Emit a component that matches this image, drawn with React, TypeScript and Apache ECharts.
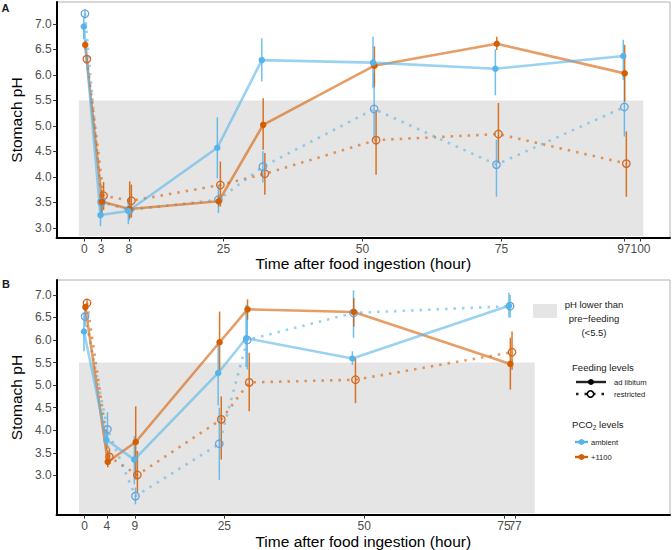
import React, { useEffect, useRef } from "react";
import * as echarts from "echarts";

const BLUE = "#56B4E9";
const ORANGE = "#D55E00";
const FONT = "Liberation Sans, Arial, sans-serif";

// ---------- Panel A ----------
const timesA = [0, 3, 8, 24, 32, 52, 74, 97];
const xTicksA = [0, 3, 8, 25, 50, 75, 97, 100];
const ambAdMeanA = [6.95, 3.25, 3.33, 4.57, 6.29, 6.24, 6.12, 6.37];
const ambAdLoA = [6.7, 3.03, 3.07, 3.97, 5.87, 5.74, 5.6, 5.9];
const ambAdHiA = [7.15, 3.5, 3.55, 5.17, 6.72, 6.75, 6.5, 6.69];
const ambReMeanA = [7.2, 3.5, 3.35, 3.55, 4.2, 5.33, 4.24, 5.37];
const ambReLoA = [7.1, 3.25, 3.15, 3.29, 3.89, 4.73, 3.61, 4.79];
const ambReHiA = [7.27, 3.7, 3.6, 3.85, 4.5, 6.03, 4.73, 5.97];
const hiAdMeanA = [6.59, 3.51, 3.37, 3.52, 5.02, 6.18, 6.61, 6.03];
const hiAdLoA = [6.5, 3.29, 3.19, 3.42, 4.53, 5.77, 6.49, 5.48];
const hiAdHiA = [6.68, 3.74, 3.91, 3.65, 5.54, 6.56, 6.75, 6.59];
const hiReMeanA = [6.31, 3.63, 3.53, 3.84, 4.06, 4.72, 4.84, 4.26];
const hiReLoA = [6.22, 3.35, 3.2, 3.42, 3.65, 4.04, 4.27, 3.61];
const hiReHiA = [6.4, 3.9, 3.85, 4.3, 4.47, 5.31, 5.45, 4.89];
const shadeA = [-1, 100.5, 2.84, 5.5];
const yRangeA = [2.8, 7.43];

// ---------- Panel B ----------
const timesB = [0, 4, 9, 24, 29, 48, 76];
const xTicksB = [0, 4, 9, 25, 50, 75];
const xTicksBExtra = [77];
const ambAdMeanB = [6.19, 3.79, 3.35, 5.27, 6.04, 5.59, 6.76];
const ambAdLoB = [5.75, 3.55, 2.8, 4.55, 5.4, 5.45, 6.5];
const ambAdHiB = [6.6, 4.0, 3.87, 6.0, 6.78, 5.75, 7.05];
const ambReMeanB = [6.52, 4.02, 2.54, 3.7, 6.0, 6.6, 6.75];
const ambReLoB = [6.3, 3.65, 2.36, 2.9, 5.35, 6.05, 6.5];
const ambReHiB = [6.7, 4.4, 2.73, 4.5, 6.75, 7.1, 7.0];
const hiAdMeanB = [6.73, 3.3, 3.74, 5.95, 6.68, 6.62, 5.47];
const hiAdLoB = [6.65, 3.18, 2.91, 5.3, 6.45, 6.3, 4.9];
const hiAdHiB = [6.8, 3.55, 4.53, 6.63, 6.9, 6.93, 6.05];
const hiReMeanB = [6.82, 3.41, 3.01, 4.24, 5.06, 5.12, 5.73];
const hiReLoB = [6.75, 3.3, 2.62, 3.35, 4.42, 4.6, 5.34];
const hiReHiB = [6.88, 3.6, 3.54, 4.75, 5.72, 5.6, 6.19];
const shadeB = [-1, 80.5, 2.16, 5.5];
const yRangeB = [2.12, 7.33];

const yTicks = [3, 3.5, 4, 4.5, 5, 5.5, 6, 6.5, 7];
const xRange = [-5, 105.3];
const xRangeB = [-5, 104.7];

const DODGE = { ambAd: -0.1, ambRe: 0.1, hiAd: 0.15, hiRe: 0.45 };

function groupSeries(
  idx: number,
  times: number[],
  mean: number[],
  lo: number[],
  hi: number[],
  color: string,
  restricted: boolean,
  dodge: number
) {
  const openColor = color === BLUE ? "#6aa3d8" : "#d5661f";
  const line = {
    type: "line",
    xAxisIndex: idx,
    yAxisIndex: idx,
    data: times.map((t, i) => [t + dodge, mean[i]]),
    symbol: "circle",
    symbolSize: restricted ? 7.5 : 6.5,
    showSymbol: true,
    itemStyle: restricted
      ? { color: "rgba(255,255,255,0)", borderColor: openColor, borderWidth: 1.3 }
      : { color: color, borderWidth: 0 },
    lineStyle: {
      color: color,
      width: 2.6,
      opacity: 0.6,
      type: restricted ? [2.5, 6] : "solid",
    },
    z: 4,
    silent: true,
  };
  const err = {
    type: "custom",
    xAxisIndex: idx,
    yAxisIndex: idx,
    data: times.map((t, i) => [t + dodge, lo[i], hi[i]]),
    encode: { x: 0, y: [1, 2] },
    renderItem: (params: any, api: any) => {
      const p1 = api.coord([api.value(0), api.value(1)]);
      const p2 = api.coord([api.value(0), api.value(2)]);
      return {
        type: "line",
        shape: { x1: p1[0], y1: p1[1], x2: p2[0], y2: p2[1] },
        style: { stroke: color, lineWidth: 1.5, opacity: 0.85 },
      };
    },
    z: 3,
    silent: true,
  };
  return [line, err];
}

function shadeSeries(idx: number, rect: number[]) {
  return {
    type: "custom",
    xAxisIndex: idx,
    yAxisIndex: idx,
    data: [rect],
    encode: { x: [0, 1], y: [2, 3] },
    renderItem: (params: any, api: any) => {
      const p0 = api.coord([api.value(0), api.value(3)]);
      const p1 = api.coord([api.value(1), api.value(2)]);
      return {
        type: "rect",
        shape: { x: p0[0], y: p0[1], width: p1[0] - p0[0], height: p1[1] - p0[1] },
        style: { fill: "#e5e5e5" },
      };
    },
    z: 1,
    silent: true,
  };
}

function xAxisCfg(idx: number, ticks: number[], range: number[], withName = true) {
  return {
    type: "value",
    gridIndex: idx,
    position: "bottom",
    min: range[0],
    max: range[1],
    name: withName ? "Time after food ingestion (hour)" : "",
    nameLocation: "middle",
    nameGap: 13,
    nameTextStyle: { fontSize: 15.5, color: "#000", fontFamily: FONT, fontWeight: "normal" },
    axisLine: { show: withName, onZero: false, lineStyle: { color: "#000", width: 2 } },
    axisTick: {
      show: true,
      length: 3.5,
      customValues: ticks,
      lineStyle: { color: "#333", width: 1 },
    },
    axisLabel: {
      show: true,
      customValues: ticks,
      margin: 5,
      fontSize: 12,
      color: "#4d4d4d",
      fontFamily: FONT,
      formatter: (v: number) => String(v),
    },
    splitLine: { show: false },
  };
}

function yAxisCfg(idx: number, range: number[]) {
  return {
    type: "value",
    gridIndex: idx,
    min: range[0],
    max: range[1],
    name: "Stomach pH",
    nameLocation: "middle",
    nameGap: 27,
    nameTextStyle: { fontSize: 15.5, color: "#000", fontFamily: FONT, fontWeight: "normal" },
    axisLine: { show: true, onZero: false, lineStyle: { color: "#000", width: 2 } },
    axisTick: {
      show: true,
      length: 3.5,
      customValues: yTicks,
      lineStyle: { color: "#333", width: 1 },
    },
    axisLabel: {
      show: true,
      customValues: yTicks,
      margin: 5,
      fontSize: 12,
      color: "#4d4d4d",
      fontFamily: FONT,
      formatter: (v: number) => v.toFixed(1),
    },
    splitLine: { show: false },
  };
}

export default function App() {
  const ref = useRef<HTMLDivElement>(null);
  useEffect(() => {
    document.body.style.margin = "0";
    if (!ref.current) return;
    const chart = echarts.init(ref.current, undefined, { renderer: "svg" });

    const series: any[] = [
      shadeSeries(0, shadeA),
      shadeSeries(1, shadeB),
      ...groupSeries(0, timesA, hiReMeanA, hiReLoA, hiReHiA, ORANGE, true, DODGE.hiRe),
      ...groupSeries(0, timesA, ambReMeanA, ambReLoA, ambReHiA, BLUE, true, DODGE.ambRe),
      ...groupSeries(0, timesA, hiAdMeanA, hiAdLoA, hiAdHiA, ORANGE, false, DODGE.hiAd),
      ...groupSeries(0, timesA, ambAdMeanA, ambAdLoA, ambAdHiA, BLUE, false, DODGE.ambAd),
      ...groupSeries(1, timesB, hiReMeanB, hiReLoB, hiReHiB, ORANGE, true, DODGE.hiRe),
      ...groupSeries(1, timesB, ambReMeanB, ambReLoB, ambReHiB, BLUE, true, DODGE.ambRe),
      ...groupSeries(1, timesB, hiAdMeanB, hiAdLoB, hiAdHiB, ORANGE, false, DODGE.hiAd),
      ...groupSeries(1, timesB, ambAdMeanB, ambAdLoB, ambAdHiB, BLUE, false, DODGE.ambAd),
    ];

    const txt = (x: number, y: number, text: string, size: number, align = "left", weight = "normal") => ({
      type: "text",
      x,
      y,
      style: {
        text,
        fontSize: size,
        fontFamily: FONT,
        fill: "#1a1a1a",
        align,
        verticalAlign: "middle",
        fontWeight: weight,
      },
      z: 10,
    });

    const graphic: any[] = [
      txt(5.5, 8, "A", 11, "center", "bold"),
      txt(6, 284, "B", 11, "center", "bold"),
      {
        type: "rect",
        shape: { x: 533, y: 304, width: 24, height: 14 },
        style: { fill: "#e5e5e5" },
        z: 10,
      },
      txt(594, 304, "pH lower than", 9.5, "center"),
      txt(594, 318, "pre\u2212feeding", 9.5, "center"),
      txt(594, 332, "(<5.5)", 9.5, "center"),
      txt(572, 367, "Feeding levels", 9.6),
      {
        type: "line",
        shape: { x1: 576, y1: 382, x2: 606, y2: 382 },
        style: { stroke: "#222", lineWidth: 2.4 },
        z: 10,
      },
      { type: "circle", shape: { cx: 591, cy: 382, r: 3 }, style: { fill: "#000" }, z: 11 },
      txt(614, 382, "ad libitum", 7.6),
      {
        type: "line",
        shape: { x1: 576, y1: 394, x2: 606, y2: 394 },
        style: { stroke: "#222", lineWidth: 2.4, lineDash: [2.5, 6] },
        z: 10,
      },
      {
        type: "circle",
        shape: { cx: 590.5, cy: 394, r: 3.2 },
        style: { fill: "#fff", stroke: "#000", lineWidth: 1.5 },
        z: 11,
      },
      txt(614, 394, "restricted", 7.6),
      {
        type: "text",
        x: 572,
        y: 424,
        style: {
          text: "{a|PCO}{s|2}{a| levels}",
          fontFamily: FONT,
          fill: "#1a1a1a",
          verticalAlign: "middle",
          rich: {
            a: { fontSize: 9.6, lineHeight: 14, fontFamily: FONT, fill: "#1a1a1a" },
            s: { fontSize: 6.5, lineHeight: 8, verticalAlign: "bottom", fontFamily: FONT, fill: "#1a1a1a" },
          },
        },
        z: 10,
      },
      {
        type: "line",
        shape: { x1: 575, y1: 442, x2: 588, y2: 442 },
        style: { stroke: BLUE, lineWidth: 2.4 },
        z: 10,
      },
      { type: "circle", shape: { cx: 581.5, cy: 442, r: 3 }, style: { fill: BLUE }, z: 11 },
      txt(591, 442, "ambient", 7.6),
      {
        type: "line",
        shape: { x1: 575, y1: 457, x2: 588, y2: 457 },
        style: { stroke: ORANGE, lineWidth: 2.4 },
        z: 10,
      },
      { type: "circle", shape: { cx: 581.5, cy: 457, r: 3 }, style: { fill: ORANGE }, z: 11 },
      txt(591, 457, "+1100", 7.6),
    ];

    chart.setOption({
      animation: false,
      backgroundColor: "#fff",
      textStyle: { fontFamily: FONT },
      grid: [
        { left: 39, top: 2, width: 631, height: 236, show: true, borderColor: "#b0b0b0", borderWidth: 1, backgroundColor: "transparent" },
        { left: 39, top: 280, width: 631, height: 236, show: true, borderColor: "#b0b0b0", borderWidth: 1, backgroundColor: "transparent" },
      ],
      xAxis: [
        xAxisCfg(0, xTicksA, xRange),
        xAxisCfg(1, xTicksB, xRangeB),
        xAxisCfg(1, xTicksBExtra, xRangeB, false),
      ],
      yAxis: [yAxisCfg(0, yRangeA), yAxisCfg(1, yRangeB)],
      series,
      graphic,
    });
    return () => chart.dispose();
  }, []);
  return <div ref={ref} style={{ position: "absolute", left: 0, top: 0, width: 672, height: 550 }} />;
}
